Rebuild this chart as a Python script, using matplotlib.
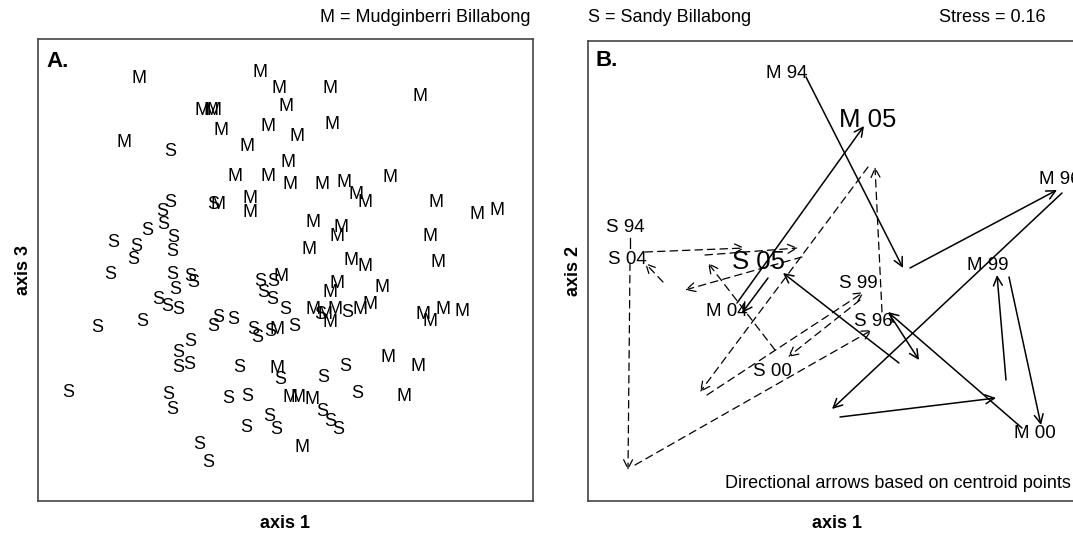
import numpy as np
import matplotlib.pyplot as plt
from matplotlib.patches import FancyArrowPatch

plt.rcParams['font.family'] = ['Liberation Sans', 'DejaVu Sans']

# Panel A: ordination scores (screen-like units, y grows downward)
m_x = [139, 260, 279, 286, 330, 420, 202, 211, 214, 221, 268, 297, 332, 124, 247, 288,
       235, 268, 290, 322, 344, 356, 365, 390, 218, 250, 250, 436, 477, 497, 313, 341,
       337, 309, 430, 351, 365, 438, 281, 337, 330, 382, 313, 325, 330, 335, 360, 370,
       423, 430, 443, 462, 277, 388, 418, 277, 404, 290, 298, 312, 302]
m_y = [79, 73, 89, 107, 89, 97, 111, 111, 111, 131, 127, 137, 125, 143, 147, 163,
       177, 177, 185, 185, 183, 195, 203, 178, 205, 199, 213, 203, 215, 211, 223, 228,
       237, 250, 237, 261, 267, 263, 277, 284, 293, 288, 310, 315, 323, 310, 310, 305,
       315, 322, 310, 312, 330, 358, 367, 369, 397, 398, 398, 400, 448]
s_x = [170, 170, 213, 162, 163, 147, 173, 113, 136, 172, 133, 110, 172, 190, 193, 175,
       158, 167, 178, 260, 273, 263, 272, 285, 294, 97, 142, 213, 218, 233, 253, 257,
       270, 320, 347, 190, 178, 189, 178, 239, 280, 345, 323, 68, 168, 172, 228, 247,
       357, 269, 276, 246, 322, 330, 338, 199, 208]
s_y = [152, 203, 205, 212, 225, 231, 238, 243, 247, 252, 260, 275, 275, 277, 283, 290,
       300, 307, 310, 282, 282, 293, 300, 310, 327, 328, 322, 327, 318, 320, 330, 338,
       332, 315, 313, 342, 353, 365, 368, 368, 380, 367, 378, 393, 395, 410, 399, 397,
       394, 417, 430, 428, 412, 422, 430, 445, 463]

# Panel B: centroid trajectories (start x, start y, end x, end y)
m_arrows = [(806, 77, 903, 268), (910, 268, 1057, 190), (1062, 193, 832, 409),
            (840, 417, 996, 398), (1006, 380, 997, 275), (1009, 277, 1041, 425),
            (1022, 428, 888, 312), (890, 315, 919, 360), (899, 363, 783, 273),
            (768, 278, 742, 313), (737, 303, 864, 126)]
s_arrows = [(645, 252, 745, 248), (705, 255, 798, 248), (663, 282, 645, 263),
            (802, 257, 685, 290), (775, 350, 708, 263), (868, 167, 700, 392),
            (882, 312, 875, 167), (707, 395, 864, 292), (860, 300, 788, 357),
            (630, 263, 628, 470), (635, 465, 872, 330)]
s_segments = [(630, 238, 630, 248)]
b_labels = ['M 94', 'M 05', 'M 96', 'M 99', 'M 00', 'M 04',
            'S 94', 'S 04', 'S 05', 'S 99', 'S 96', 'S 00']
b_lx = [787, 868, 1060, 988, 1035, 727, 625, 627, 759, 858, 873, 772]
b_ly = [73, 120, 180, 265, 433, 312, 228, 260, 262, 283, 322, 372]
b_big = ['M 05', 'S 05']

fig = plt.figure(figsize=(10.73, 5.37), dpi=100)
W, H = 1073, 537
axA = fig.add_axes([38 / W, 1 - 501 / H, 495 / W, 462 / H])
axB = fig.add_axes([588 / W, 1 - 501 / H, 497 / W, 460 / H])

for ax in (axA, axB):
    ax.set_xticks([])
    ax.set_yticks([])
    for sp in ax.spines.values():
        sp.set_color('#444444')
        sp.set_linewidth(1.2)

axA.set_xlim(38, 533)
axA.set_ylim(501, 39)
for x, y in zip(m_x, m_y):
    axA.text(x, y, 'M', fontsize=13, ha='center', va='center')
for x, y in zip(s_x, s_y):
    axA.text(x, y, 'S', fontsize=13, ha='center', va='center')
axA.text(0.018, 0.975, 'A.', transform=axA.transAxes, fontsize=16,
         fontweight='bold', ha='left', va='top')
axA.set_xlabel('axis 1', fontsize=13, fontweight='bold', labelpad=10)
axA.set_ylabel('axis 3', fontsize=13, fontweight='bold', labelpad=4)

axB.set_xlim(588, 1085)
axB.set_ylim(501, 41)
for x0, y0, x1, y1 in m_arrows:
    axB.add_patch(FancyArrowPatch((x0, y0), (x1, y1), arrowstyle='->',
                                  mutation_scale=16, lw=1.1, color='black',
                                  shrinkA=0, shrinkB=0))
for x0, y0, x1, y1 in s_arrows:
    axB.add_patch(FancyArrowPatch((x0, y0), (x1, y1), arrowstyle='->',
                                  mutation_scale=16, lw=0.9, color='black',
                                  linestyle=(0, (6, 4)), shrinkA=0, shrinkB=0))
for x0, y0, x1, y1 in s_segments:
    axB.plot([x0, x1], [y0, y1], color='black', lw=0.9)
for lab, x, y in zip(b_labels, b_lx, b_ly):
    fs = 18.5 if lab in b_big else 13.5
    axB.text(x, y, lab, fontsize=fs, ha='center', va='center')
axB.text(0.015, 0.98, 'B.', transform=axB.transAxes, fontsize=16,
         fontweight='bold', ha='left', va='top')
axB.text(1071, 484, 'Directional arrows based on centroid points', fontsize=13,
         ha='right', va='center')
axB.set_xlabel('axis 1', fontsize=13, fontweight='bold', labelpad=10)
axB.set_ylabel('axis 2', fontsize=13, fontweight='bold', labelpad=4)

fig.text(530 / W, 1 - 18 / H, 'M = Mudginberri Billabong', fontsize=13,
         ha='right', va='center')
fig.text(588 / W, 1 - 18 / H, 'S = Sandy Billabong', fontsize=13,
         ha='left', va='center')
fig.text(1046 / W, 1 - 18 / H, 'Stress = 0.16', fontsize=13,
         ha='right', va='center')

fig.savefig('out.png', dpi=100)
